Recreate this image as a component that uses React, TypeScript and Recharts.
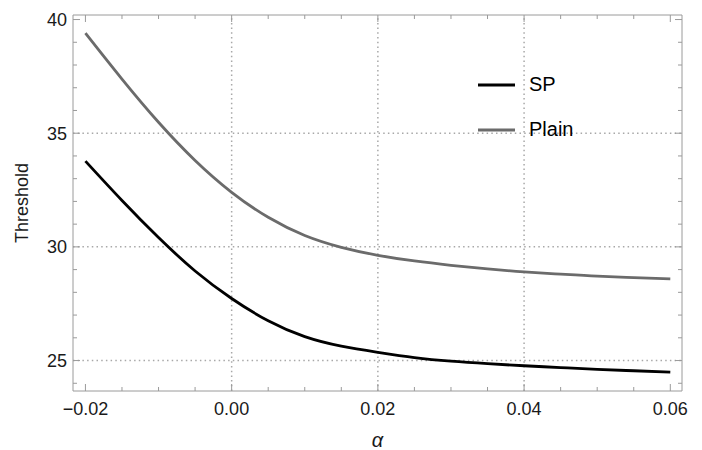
import React from "react";
import { LineChart, Line, XAxis, YAxis, ReferenceLine, Legend } from "recharts";

// values
const alpha = [
	-0.02, -0.015, -0.01, -0.005, 0, 0.005, 0.01, 0.015, 0.02, 0.025, 0.03,
	0.035, 0.04, 0.045, 0.05, 0.055, 0.06,
];
const spValues = [
	33.77, 32.04, 30.41, 28.94, 27.73, 26.75, 26.05, 25.63, 25.36, 25.13, 24.97,
	24.86, 24.77, 24.69, 24.61, 24.55, 24.49,
];
const plainValues = [
	39.4, 37.38, 35.48, 33.8, 32.4, 31.3, 30.5, 29.98, 29.63, 29.38, 29.19,
	29.03, 28.9, 28.8, 28.71, 28.65, 28.59,
];
const seriesNames = ["SP", "Plain"];

const xMajorTicks = [-0.02, 0, 0.02, 0.04, 0.06];
const xMinorTicks = [
	-0.015, -0.01, -0.005, 0.005, 0.01, 0.015, 0.025, 0.03, 0.035, 0.045, 0.05,
	0.055,
];
const yMajorTicks = [25, 30, 35, 40];
const yMinorTicks = [24, 26, 27, 28, 29, 31, 32, 33, 34, 36, 37, 38, 39];
const xGrid = [0, 0.02, 0.04];
const yGrid = [25, 30, 35];

const data = alpha.map((a, i) => ({
	alpha: a,
	sp: spValues[i],
	plain: plainValues[i],
}));

const xTicks = [...xMajorTicks, ...xMinorTicks].sort((a, b) => a - b);
const yTicks = [...yMajorTicks, ...yMinorTicks].sort((a, b) => a - b);

const FONT = "'Liberation Sans', Arial, Helvetica, sans-serif";
const FRAME = "#9a9a9a";
const TEXT = "#1a1a1a";
const X_DOMAIN = [-0.0217, 0.0616];
const Y_DOMAIN = [23.66, 40.2];

const fmtX = (v: number) => (v < 0 ? "\u2212" + Math.abs(v).toFixed(2) : v.toFixed(2));

const BottomTick = (props: any) => {
	const { x, y, payload } = props;
	const major = xMajorTicks.includes(payload.value);
	return (
		<g>
			<line x1={x} x2={x} y1={y} y2={y - (major ? 7 : 4)} stroke={FRAME} />
			{major && (
				<text x={x} y={y + 24} textAnchor="middle" fontSize={18} fontFamily={FONT} fill={TEXT}>
					{fmtX(payload.value)}
				</text>
			)}
		</g>
	);
};

const TopTick = (props: any) => {
	const { x, y, payload } = props;
	const major = xMajorTicks.includes(payload.value);
	return <line x1={x} x2={x} y1={y} y2={y + (major ? 7 : 4)} stroke={FRAME} />;
};

const LeftTick = (props: any) => {
	const { x, y, payload } = props;
	const major = yMajorTicks.includes(payload.value);
	return (
		<g>
			<line x1={x} x2={x + (major ? 7 : 4)} y1={y} y2={y} stroke={FRAME} />
			{major && (
				<text x={x - 6} y={y} dy="0.36em" textAnchor="end" fontSize={18} fontFamily={FONT} fill={TEXT}>
					{payload.value}
				</text>
			)}
		</g>
	);
};

const RightTick = (props: any) => {
	const { x, y, payload } = props;
	const major = yMajorTicks.includes(payload.value);
	return <line x1={x} x2={x - (major ? 7 : 4)} y1={y} y2={y} stroke={FRAME} />;
};

const renderLegend = (props: any) => {
	const items = [...(props.payload || [])].sort(
		(a: any, b: any) => seriesNames.indexOf(a.value) - seriesNames.indexOf(b.value)
	);
	return (
		<div style={{ fontFamily: FONT, fontSize: 20, color: "#000" }}>
			{items.map((entry: any) => (
				<div key={entry.value} style={{ display: "flex", alignItems: "center", height: 45 }}>
					<svg width={37} height={4} style={{ display: "block" }}>
						<line x1={0} x2={37} y1={2} y2={2} stroke={entry.color} strokeWidth={2.8} />
					</svg>
					<span style={{ marginLeft: 14 }}>{entry.value}</span>
				</div>
			))}
		</div>
	);
};

export default function App() {
	return (
		<div style={{ position: "absolute", left: 0, top: 0, background: "#fff" }}>
			<LineChart
				width={702}
				height={450}
				data={data}
				margin={{ top: 14, right: 19, bottom: 0, left: 0 }}
			>
				<XAxis
					xAxisId="b"
					dataKey="alpha"
					type="number"
					domain={X_DOMAIN}
					allowDataOverflow
					ticks={xTicks}
					interval={0}
					tickSize={0}
					tickMargin={0}
					tickLine={false}
					tick={BottomTick}
					axisLine={{ stroke: FRAME }}
					height={59}
					label={(p: any) => (
						<text
							x={p.viewBox.x + p.viewBox.width / 2}
							y={p.viewBox.y + 56}
							textAnchor="middle"
							fontSize={20}
							fontStyle="italic"
							fontFamily={FONT}
							fill={TEXT}
						>
							α
						</text>
					)}
				/>
				<XAxis
					xAxisId="t"
					orientation="top"
					dataKey="alpha"
					type="number"
					domain={X_DOMAIN}
					allowDataOverflow
					ticks={xTicks}
					interval={0}
					tickSize={0}
					tickMargin={0}
					tickLine={false}
					tick={TopTick}
					axisLine={{ stroke: FRAME }}
					height={1}
				/>
				<YAxis
					yAxisId="l"
					type="number"
					domain={Y_DOMAIN}
					allowDataOverflow
					ticks={yTicks}
					interval={0}
					tickSize={0}
					tickMargin={0}
					tickLine={false}
					tick={LeftTick}
					axisLine={{ stroke: FRAME }}
					width={73}
					label={(p: any) => {
						const cx = p.viewBox.x + 22;
						const cy = p.viewBox.y + p.viewBox.height / 2;
						return (
							<text
								x={cx}
								y={cy}
								dy="0.36em"
								textAnchor="middle"
								transform={`rotate(-90 ${cx} ${cy})`}
								fontSize={18}
								fontFamily={FONT}
								fill={TEXT}
							>
								Threshold
							</text>
						);
					}}
				/>
				<YAxis
					yAxisId="r"
					orientation="right"
					type="number"
					domain={Y_DOMAIN}
					allowDataOverflow
					ticks={yTicks}
					interval={0}
					tickSize={0}
					tickMargin={0}
					tickLine={false}
					tick={RightTick}
					axisLine={{ stroke: FRAME }}
					width={1}
				/>
				{xGrid.map((v) => (
					<ReferenceLine
						key={`gx-${v}`}
						x={v}
						xAxisId="b"
						yAxisId="l"
						stroke="#a8a8a8"
						strokeWidth={1.5}
						strokeDasharray="1.5 3.2"
					/>
				))}
				{yGrid.map((v) => (
					<ReferenceLine
						key={`gy-${v}`}
						y={v}
						xAxisId="b"
						yAxisId="l"
						stroke="#a8a8a8"
						strokeWidth={1.5}
						strokeDasharray="1.5 3.2"
					/>
				))}
				<Legend
					layout="vertical"
					align="center"
					verticalAlign="middle"
					content={renderLegend}
					wrapperStyle={{ left: 478, top: 62, width: 130 }}
				/>
				<Line
					xAxisId="b"
					yAxisId="l"
					name="SP"
					dataKey="sp"
					type="natural"
					stroke="#000000"
					strokeWidth={2.8}
					dot={false}
					isAnimationActive={false}
				/>
				<Line
					xAxisId="b"
					yAxisId="l"
					name="Plain"
					dataKey="plain"
					type="natural"
					stroke="#6b6b6b"
					strokeWidth={2.8}
					dot={false}
					isAnimationActive={false}
				/>
			</LineChart>
		</div>
	);
}
